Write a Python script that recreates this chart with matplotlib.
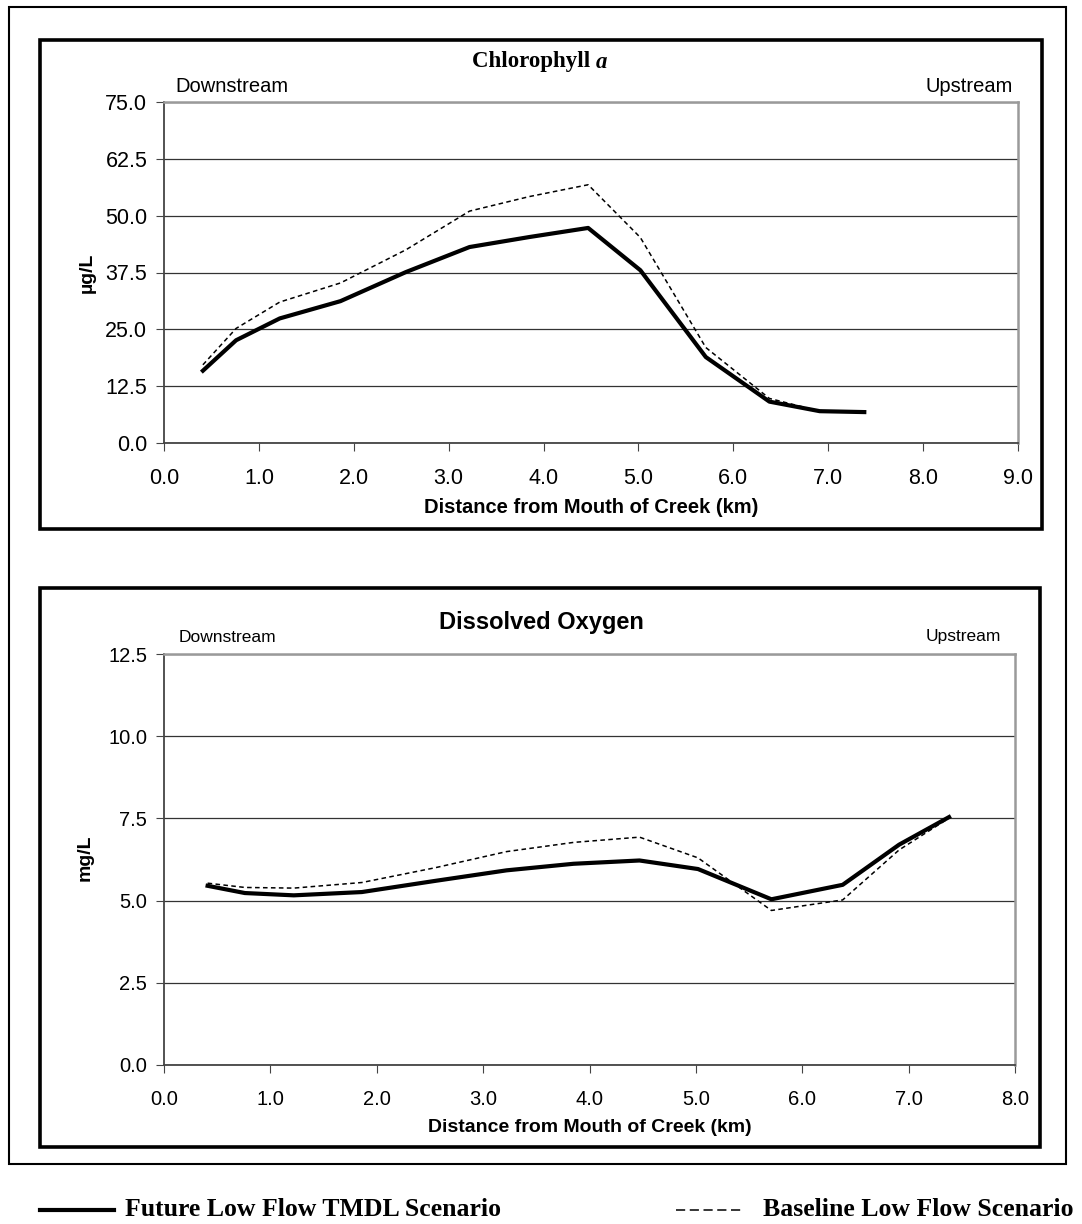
import matplotlib
matplotlib.use('Agg')
import matplotlib.pyplot as plt
from matplotlib.patches import Rectangle
from matplotlib.lines import Line2D
from matplotlib.ticker import FormatStrFormatter
import numpy as np

plt.rcParams['font.family'] = ['Liberation Sans', 'DejaVu Sans']

# distance from mouth of creek (km), shared by both panels
dist = [0.41, 0.76, 1.22, 1.86, 2.55, 3.22, 3.85, 4.47, 5.02, 5.71, 6.38, 6.91, 7.38]

# Chlorophyll a (ug/L)
chl_future = [15.9, 22.6, 27.4, 31.2, 37.6, 43.1, 45.3, 47.3, 38.0, 18.9, 9.1, 7.0, 6.8]
chl_base = [17.2, 25.2, 31.0, 35.2, 42.5, 51.0, 54.2, 56.8, 45.2, 21.0, 9.8, 7.0, 6.8]

# Dissolved oxygen (mg/L)
do_future = [5.45, 5.23, 5.16, 5.26, 5.60, 5.92, 6.12, 6.22, 5.96, 5.04, 5.48, 6.70, 7.54]
do_base = [5.53, 5.40, 5.38, 5.55, 6.00, 6.49, 6.77, 6.93, 6.30, 4.70, 5.02, 6.54, 7.51]

chl_ticks = [0, 12.5, 25, 37.5, 50, 62.5, 75]
do_ticks = [0, 2.5, 5, 7.5, 10, 12.5]

W, H = 1082, 1224
def fx(px):
    return px / W
def fy(py):
    return 1 - py / H

fig = plt.figure(figsize=(W / 100, H / 100), dpi=100)

# frames
fig.patches.append(Rectangle((fx(9), fy(1164)), fx(1066) - fx(9), fy(7) - fy(1164),
                             transform=fig.transFigure, fill=False, ec='black', lw=1.5))
fig.patches.append(Rectangle((fx(40), fy(529)), fx(1042) - fx(40), fy(40) - fy(529),
                             transform=fig.transFigure, fill=False, ec='black', lw=2.6))
fig.patches.append(Rectangle((fx(40), fy(1147)), fx(1040) - fx(40), fy(588) - fy(1147),
                             transform=fig.transFigure, fill=False, ec='black', lw=2.6))

def style(ax, xmax, ymax, xticks, yticks, size):
    ax.set_xlim(0, xmax)
    ax.set_ylim(0, ymax)
    ax.set_xticks(xticks)
    ax.set_yticks(yticks)
    ax.xaxis.set_major_formatter(FormatStrFormatter('%.1f'))
    ax.yaxis.set_major_formatter(FormatStrFormatter('%.1f'))
    ax.grid(axis='y', color='#333333', lw=0.9)
    ax.set_axisbelow(True)
    for s in ['left', 'bottom']:
        ax.spines[s].set_color('#444444')
        ax.spines[s].set_linewidth(1.3)
    for s in ['top', 'right']:
        ax.spines[s].set_color('#9a9a9a')
        ax.spines[s].set_linewidth(1.8)
    ax.tick_params(direction='out', length=6, color='#444444', labelsize=size)
    ax.tick_params(axis='x', pad=12)
    ax.tick_params(axis='y', pad=6)

# top panel
ax1 = fig.add_axes([fx(164), fy(443), fx(1018) - fx(164), fy(102) - fy(443)])
ax1.plot(dist, chl_base, color='black', lw=1.1, ls=(0, (3, 2.2)))
ax1.plot(dist, chl_future, color='black', lw=3.0)
style(ax1, 9, 75, np.arange(0, 9.5, 1), chl_ticks, 15.5)

t = fig.text(fx(472), fy(62), 'Chlorophyll ', family='Liberation Serif', weight='bold',
             fontsize=16.5, ha='left', va='center')
ax1.annotate('a', xy=(1, 0), xycoords=t, family='Liberation Serif', weight='bold',
             style='italic', fontsize=16.5, ha='left', va='bottom')
fig.text(fx(175), fy(87), 'Downstream', fontsize=14.5, ha='left', va='center')
fig.text(fx(1013), fy(87), 'Upstream', fontsize=14.5, ha='right', va='center')
fig.text(fx(87), fy(273), 'µg/L', fontsize=14, weight='bold', rotation=90,
         ha='center', va='center')
fig.text(fx(591), fy(507), 'Distance from Mouth of Creek (km)', fontsize=14.5,
         weight='bold', ha='center', va='center')

# bottom panel
ax2 = fig.add_axes([fx(164), fy(1065), fx(1015) - fx(164), fy(654) - fy(1065)])
ax2.plot(dist, do_base, color='black', lw=1.1, ls=(0, (3, 2.2)))
ax2.plot(dist, do_future, color='black', lw=3.0)
style(ax2, 8, 12.5, np.arange(0, 8.5, 1), do_ticks, 14.5)

fig.text(fx(541), fy(622), 'Dissolved Oxygen', fontsize=17, weight='bold',
         ha='center', va='center')
fig.text(fx(179), fy(638), 'Downstream', fontsize=12.5, ha='left', va='center')
fig.text(fx(1001), fy(637), 'Upstream', fontsize=12.5, ha='right', va='center')
fig.text(fx(85), fy(858), 'mg/L', fontsize=14, weight='bold', rotation=90,
         ha='center', va='center')
fig.text(fx(590), fy(1127), 'Distance from Mouth of Creek (km)', fontsize=14,
         weight='bold', ha='center', va='center')

# legend under the panels
fig.lines.append(Line2D([fx(40), fx(114)], [fy(1210), fy(1210)], transform=fig.transFigure,
                        color='black', lw=3.0))
fig.text(fx(125), fy(1210), 'Future Low Flow TMDL Scenario', family='Liberation Serif',
         weight='bold', fontsize=18.5, ha='left', va='center')
fig.lines.append(Line2D([fx(676), fx(744)], [fy(1210), fy(1210)], transform=fig.transFigure,
                        color='black', lw=1.1, ls=(0, (6, 3))))
fig.text(fx(763), fy(1210), 'Baseline Low Flow Scenario', family='Liberation Serif',
         weight='bold', fontsize=18.5, ha='left', va='center')

fig.savefig('out.png', dpi=100)
